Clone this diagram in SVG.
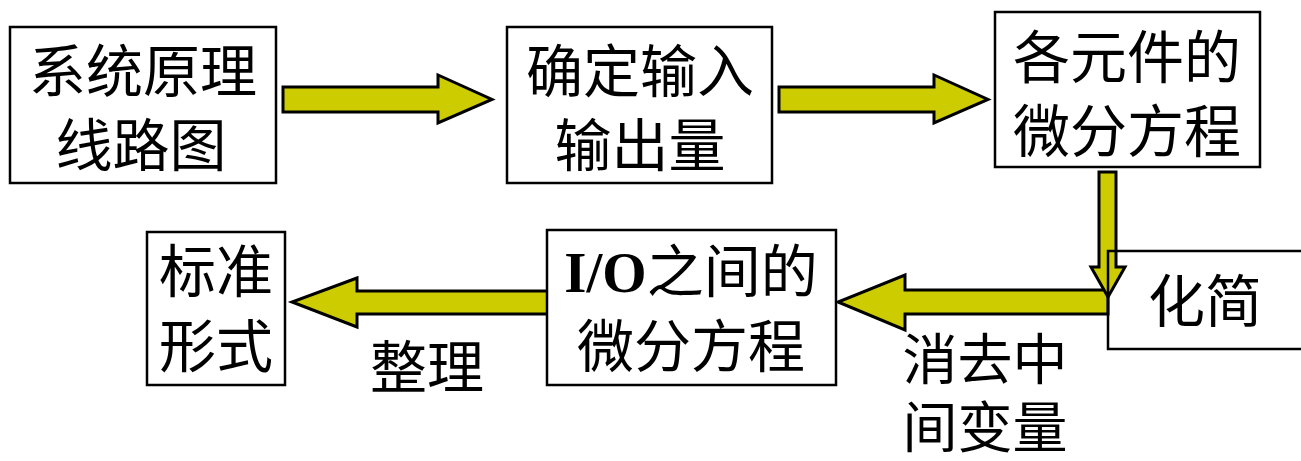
<svg xmlns="http://www.w3.org/2000/svg" width="1301" height="461" viewBox="0 0 1301 461">
<style>
.box{fill:#fff;stroke:#000;stroke-width:2.5}
.open{fill:none}
.arr{fill:#cccc00;stroke:#000;stroke-width:3;stroke-linejoin:miter}
.t{font-family:"Noto Sans CJK SC","Noto Sans CJK TC",sans-serif;font-size:57px;fill:#000;text-anchor:middle}
.s{font-size:55px}
.io{font-family:"Liberation Serif",serif;font-weight:bold}
</style>
<rect width="1301" height="461" fill="#fff"/>
<g id="connectors">
<polygon class="arr" points="283,87 438,87 438,75 492,99.5 438,123 438,112 283,112"/>
<polygon class="arr" points="779,87 934,87 934,75 988,99.5 934,123 934,112 779,112"/>
<polygon class="arr" points="1108,290 1108,314 905,314 905,330 838,302 905,275 905,290"/>
<polygon class="arr" points="1099,172 1116,172 1116,267 1125,267 1108,297 1091,267 1099,267"/>
<polygon class="arr" points="548,291 548,314 357,314 357,327 292,302 357,278 357,291"/>
</g>
<g id="n1">
<rect class="box" x="10" y="27" width="266" height="156"/>
<text class="t" x="143" y="92">系统原理</text>
<text class="t" x="141" y="166">线路图</text>
</g>
<g id="n2">
<rect class="box" x="507" y="27" width="265" height="156"/>
<text class="t" x="640" y="92">确定输入</text>
<text class="t" x="640" y="166">输出量</text>
</g>
<g id="n3">
<rect class="box" x="995" y="12" width="265" height="155"/>
<text class="t" x="1127" y="78">各元件的</text>
<text class="t" x="1127" y="152">微分方程</text>
</g>
<g id="n4">
<rect class="box open" x="1108" y="251" width="200" height="98"/>
<text class="t" x="1205" y="322">化简</text>
</g>
<g id="n5">
<rect class="box" x="547" y="230" width="289" height="155"/>
<text class="t" x="691" y="292"><tspan class="io">I/O</tspan>之间的</text>
<text class="t" x="691" y="367">微分方程</text>
</g>
<g id="n6">
<rect class="box" x="147" y="232" width="138" height="153"/>
<text class="t" x="216" y="292">标准</text>
<text class="t" x="216" y="367">形式</text>
</g>
<g id="labels">
<text class="t" x="427" y="388">整理</text>
<text class="t s" x="985" y="379">消去中</text>
<text class="t s" x="985" y="447">间变量</text>
</g>
</svg>
